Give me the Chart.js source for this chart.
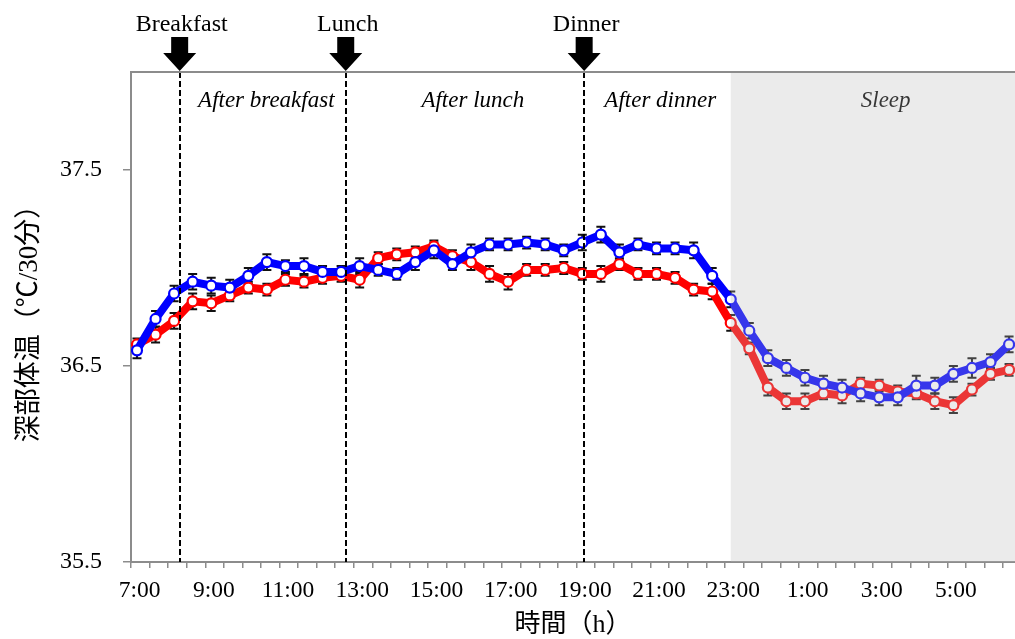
<!DOCTYPE html>
<html>
<head>
<meta charset="utf-8">
<script src="https://cdn.jsdelivr.net/npm/chart.js@4.4.1/dist/chart.umd.min.js"></script>
<style>
  html, body { margin: 0; padding: 0; background: #fff; }
  canvas { display: block; }
</style>
</head>
<body>
<canvas id="chart" width="1015" height="639"></canvas>
<script>
// ── Data (half-hour steps, 7:00 → 6:30 next morning) ──

const TIMES = [
  "7:00", "7:30", "8:00", "8:30", "9:00", "9:30", "10:00", "10:30",
  "11:00", "11:30", "12:00", "12:30", "13:00", "13:30", "14:00", "14:30",
  "15:00", "15:30", "16:00", "16:30", "17:00", "17:30", "18:00", "18:30",
  "19:00", "19:30", "20:00", "20:30", "21:00", "21:30", "22:00", "22:30",
  "23:00", "23:30", "0:00", "0:30", "1:00", "1:30", "2:00", "2:30",
  "3:00", "3:30", "4:00", "4:30", "5:00", "5:30", "6:00", "6:30",
];
const X_TICK_LABELS = ["7:00", "9:00", "11:00", "13:00", "15:00", "17:00", "19:00", "21:00", "23:00", "1:00", "3:00", "5:00"];
const Y_TICKS = [35.5, 36.5, 37.5];

const BLUE = [
  36.58, 36.74, 36.87, 36.93, 36.91, 36.90, 36.96, 37.03,
  37.01, 37.01, 36.98, 36.98, 37.01, 36.99, 36.97, 37.03,
  37.09, 37.02, 37.08, 37.12, 37.12, 37.13, 37.12, 37.09,
  37.13, 37.17, 37.08, 37.12, 37.10, 37.10, 37.09, 36.96,
  36.84, 36.68, 36.54, 36.49, 36.44, 36.41, 36.39, 36.36,
  36.34, 36.34, 36.40, 36.40, 36.46, 36.49, 36.52, 36.61,
];
const BLUE_ERR = [
  0.04, 0.04, 0.04, 0.04, 0.04, 0.04, 0.04, 0.04,
  0.03, 0.04, 0.03, 0.03, 0.04, 0.03, 0.03, 0.04,
  0.04, 0.03, 0.04, 0.03, 0.03, 0.03, 0.03, 0.03,
  0.04, 0.04, 0.04, 0.03, 0.03, 0.03, 0.04, 0.04,
  0.04, 0.04, 0.04, 0.04, 0.04, 0.04, 0.04, 0.04,
  0.04, 0.04, 0.05, 0.04, 0.04, 0.05, 0.04, 0.04,
];
const RED = [
  36.61, 36.66, 36.73, 36.83, 36.82, 36.86, 36.90, 36.89,
  36.94, 36.93, 36.95, 36.96, 36.94, 37.05, 37.07, 37.08,
  37.11, 37.06, 37.03, 36.97, 36.93, 36.99, 36.99, 37.00,
  36.97, 36.97, 37.02, 36.97, 36.97, 36.95, 36.89, 36.88,
  36.72, 36.59, 36.39, 36.32, 36.32, 36.36, 36.35, 36.41,
  36.40, 36.37, 36.36, 36.32, 36.30, 36.38, 36.46, 36.48,
];
const RED_ERR = [
  0.03, 0.04, 0.04, 0.04, 0.04, 0.03, 0.03, 0.03,
  0.03, 0.03, 0.03, 0.03, 0.04, 0.03, 0.03, 0.03,
  0.03, 0.03, 0.04, 0.04, 0.04, 0.03, 0.03, 0.03,
  0.03, 0.04, 0.03, 0.03, 0.03, 0.03, 0.03, 0.04,
  0.04, 0.03, 0.04, 0.04, 0.04, 0.03, 0.04, 0.03,
  0.03, 0.03, 0.03, 0.04, 0.04, 0.03, 0.03, 0.03,
];

// annotations, in half-hour index units
const MEAL_NAMES = ["Breakfast", "Lunch", "Dinner"];
const MEAL_AT = [2.3, 11.25, 24.1];
const PERIOD_NAMES = ["After breakfast", "After lunch", "After dinner", "Sleep"];
const PERIOD_AT = [6.97, 18.1, 28.2, 40.35];
const SLEEP_FROM = 32;

// ── Styles ──

const SERIF = '"Liberation Serif", "Times New Roman", serif';
const MIXED = '"Liberation Serif", "Noto Sans CJK JP", sans-serif';
const AXIS_GREY = "#8c8c8c";

function toPoints(values) {
  return values.map((v, i) => ({ x: i, y: v }));
}

function lineSet(label, values, color) {
  return {
    label,
    data: toPoints(values),
    borderColor: color,
    borderWidth: 8,
    pointRadius: 5,
    pointBorderWidth: 2.2,
    pointBorderColor: color,
    pointBackgroundColor: "#fff",
    tension: 0,
  };
}

// ── Overlay plugin: error bars, meal markers, sleep shading ──

function errorBars(ctx, x, y, values, errs) {
  values.forEach((v, i) => {
    const px = x.getPixelForValue(i);
    const top = y.getPixelForValue(v + errs[i]);
    const bot = y.getPixelForValue(v - errs[i]);
    ctx.beginPath();
    ctx.moveTo(px, top); ctx.lineTo(px, bot);
    ctx.moveTo(px - 4.5, top); ctx.lineTo(px + 4.5, top);
    ctx.moveTo(px - 4.5, bot); ctx.lineTo(px + 4.5, bot);
    ctx.stroke();
  });
}

function downArrow(ctx, cx, tip) {
  ctx.beginPath();
  ctx.moveTo(cx - 8.5, tip - 34);
  ctx.lineTo(cx + 8.5, tip - 34);
  ctx.lineTo(cx + 8.5, tip - 18);
  ctx.lineTo(cx + 16.5, tip - 18);
  ctx.lineTo(cx, tip);
  ctx.lineTo(cx - 16.5, tip - 18);
  ctx.lineTo(cx - 8.5, tip - 18);
  ctx.closePath();
  ctx.fill();
}

const overlays = {
  id: "overlays",
  beforeDatasetsDraw(chart) {
    const { ctx, scales: { x, y } } = chart;
    ctx.save();
    ctx.strokeStyle = "#111";
    ctx.lineWidth = 2;
    errorBars(ctx, x, y, RED, RED_ERR);
    errorBars(ctx, x, y, BLUE, BLUE_ERR);
    ctx.restore();
  },
  afterDatasetsDraw(chart) {
    const { ctx, chartArea: a, scales: { x } } = chart;
    ctx.save();
    ctx.font = "italic 23px " + SERIF;
    ctx.fillStyle = "#000";
    ctx.textAlign = "center";
    ctx.textBaseline = "alphabetic";
    PERIOD_NAMES.forEach((name, i) => ctx.fillText(name, x.getPixelForValue(PERIOD_AT[i]), 106.5));

    // sleep band sits on top of the lines
    const sx = x.getPixelForValue(SLEEP_FROM);
    ctx.fillStyle = "rgba(185,185,185,0.29)";
    ctx.fillRect(sx, a.top, a.right - sx, a.bottom - a.top);

    ctx.strokeStyle = "#000";
    ctx.lineWidth = 2;
    ctx.setLineDash([6, 3]);
    MEAL_AT.forEach((m) => {
      const px = Math.round(x.getPixelForValue(m));
      ctx.beginPath();
      ctx.moveTo(px, a.top); ctx.lineTo(px, a.bottom);
      ctx.stroke();
    });
    ctx.setLineDash([]);

    ctx.strokeStyle = AXIS_GREY;
    ctx.beginPath();
    ctx.moveTo(a.left, a.top); ctx.lineTo(a.right, a.top);
    ctx.stroke();
    ctx.restore();
  },
  afterDraw(chart) {
    const { ctx, chartArea: a, scales: { x } } = chart;
    ctx.save();
    ctx.fillStyle = "#000";
    ctx.font = "24px " + SERIF;
    ctx.textAlign = "center";
    ctx.textBaseline = "alphabetic";
    MEAL_NAMES.forEach((name, i) => {
      const px = x.getPixelForValue(MEAL_AT[i]);
      ctx.fillText(name, px + 2, 31);
      downArrow(ctx, px, a.top - 1);
    });
    ctx.restore();
  },
};

// ── Chart ──

new Chart(document.getElementById("chart"), {
  type: "line",
  data: {
    datasets: [lineSet("blue", BLUE, "#0000ff"), lineSet("red", RED, "#ff0000")],
  },
  options: {
    responsive: false,
    animation: false,
    layout: { autoPadding: false, padding: { top: 72, left: 0, right: 0, bottom: 0 } },
    plugins: { legend: { display: false }, tooltip: { enabled: false } },
    scales: {
      x: {
        type: "linear",
        min: -0.323,
        max: 47.32,
        afterBuildTicks: (s) => { s.ticks = TIMES.map((t, i) => ({ value: i - 0.32 })); },
        afterFit: (s) => { s.height = 77; },
        ticks: {
          autoSkip: false,
          maxRotation: 0,
          minRotation: 0,
          labelOffset: 8.5,
          padding: 9,
          color: "#000",
          font: { family: SERIF, size: 23.5 },
          callback: (v, i) => (i % 4 === 0 ? X_TICK_LABELS[i / 4] : ""),
        },
        grid: { drawOnChartArea: false, drawTicks: true, tickLength: 6, color: AXIS_GREY, lineWidth: 1.5 },
        border: { color: AXIS_GREY, width: 2 },
        title: {
          display: true,
          text: "時間（h）",
          color: "#000",
          font: { family: MIXED, size: 26, lineHeight: 1 },
          padding: { top: 0, bottom: 1 },
        },
      },
      y: {
        min: 35.5,
        max: 38,
        afterBuildTicks: (s) => { s.ticks = Y_TICKS.map((v) => ({ value: v })); },
        afterFit: (s) => { s.width = 131; },
        ticks: {
          padding: 21,
          color: "#000",
          font: { family: SERIF, size: 24 },
          callback: (v) => v.toFixed(1),
        },
        grid: { drawOnChartArea: false, drawTicks: true, tickLength: 8, color: AXIS_GREY, lineWidth: 1.5 },
        border: { color: AXIS_GREY, width: 2 },
        title: {
          display: true,
          text: "深部体温（℃/30分）",
          color: "#000",
          font: { family: MIXED, size: 27, lineHeight: 1 },
          padding: { top: 16, bottom: 0 },
        },
      },
    },
  },
  plugins: [overlays],
});
</script>
</body>
</html>
